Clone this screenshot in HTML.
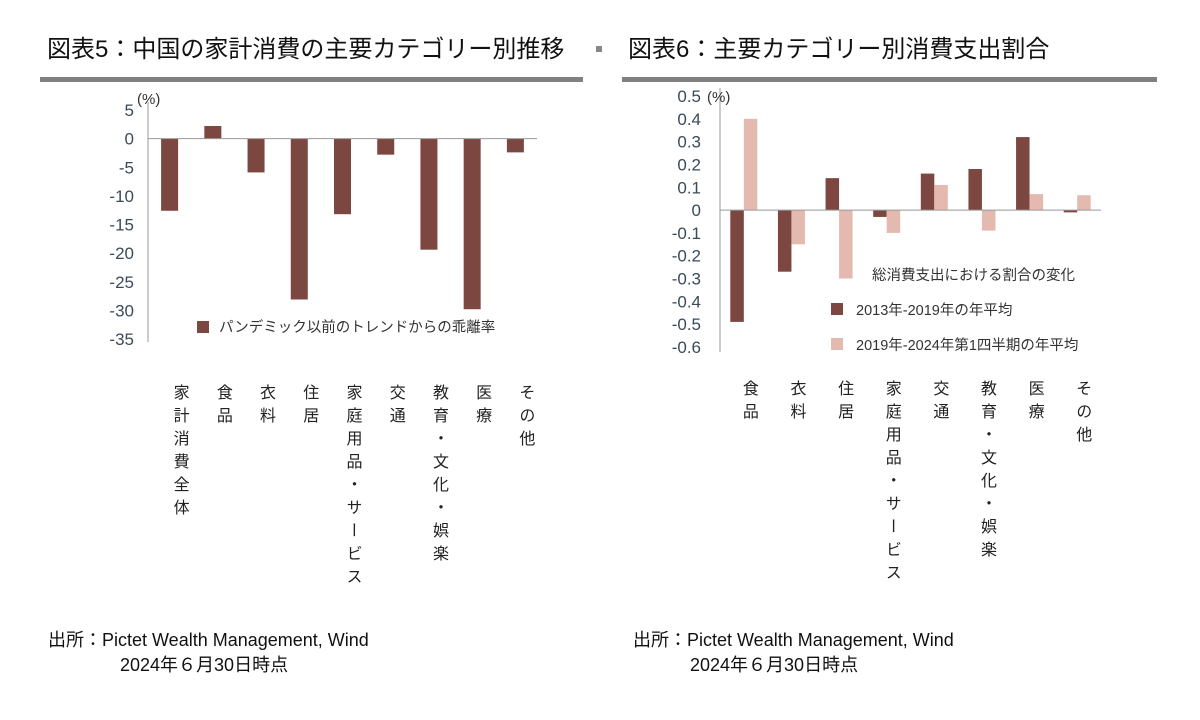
<!DOCTYPE html>
<html><head><meta charset="utf-8"><style>
body{margin:0;width:1200px;height:720px;background:#fff;overflow:hidden;font-family:"Liberation Sans","Noto Sans CJK JP",sans-serif;position:relative}
.t{position:absolute;white-space:nowrap}
.vl{position:absolute;writing-mode:vertical-rl;font-size:16px;letter-spacing:7px;color:#222;line-height:16px}
svg text{font-family:"Liberation Sans","Noto Sans CJK JP",sans-serif}
</style></head><body>
<div class="t" style="left:47px;top:29px;font-size:24px;color:#111">図表5：中国の家計消費の主要カテゴリー別推移</div>
<div class="t" style="left:628px;top:29px;font-size:24px;color:#111">図表6：主要カテゴリー別消費支出割合</div>
<div style="position:absolute;left:596px;top:46px;width:6px;height:6px;background:#888"></div>
<div style="position:absolute;left:40px;top:77px;width:543px;height:5px;background:#808080"></div>
<div style="position:absolute;left:622px;top:77px;width:535px;height:5px;background:#808080"></div>
<svg width="1200" height="720" style="position:absolute;left:0;top:0" id="svg"></svg>
<div id="labels"></div>
<div class="t" style="left:48px;top:626px;font-size:18px;color:#111">出所：Pictet Wealth Management, Wind</div>
<div class="t" style="left:120px;top:651px;font-size:18px;color:#111">2024年６月30日時点</div>
<div class="t" style="left:633px;top:626px;font-size:18px;color:#111">出所：Pictet Wealth Management, Wind</div>
<div class="t" style="left:690px;top:651px;font-size:18px;color:#111">2024年６月30日時点</div>
<script>
const leftCats=["家計消費全体","食品","衣料","住居","家庭用品・サービス","交通","教育・文化・娯楽","医療","その他"];
const leftVals=[-12.6,2.2,-5.9,-28.1,-13.2,-2.8,-19.4,-29.8,-2.4];
const leftTicks=[5,0,-5,-10,-15,-20,-25,-30,-35];
const rightCats=["食品","衣料","住居","家庭用品・サービス","交通","教育・文化・娯楽","医療","その他"];
const rightA=[-0.49,-0.27,0.14,-0.03,0.16,0.18,0.32,-0.01];
const rightB=[0.40,-0.15,-0.30,-0.10,0.11,-0.09,0.07,0.065];
const rightTicks=[0.5,0.4,0.3,0.2,0.1,0,-0.1,-0.2,-0.3,-0.4,-0.5,-0.6];
const NS="http://www.w3.org/2000/svg";
const svg=document.getElementById('svg');
const lab=document.getElementById('labels');
function mk(tag,at,name){const e=document.createElementNS(NS,tag);for(const k in at)e.setAttribute(k,at[k]);


svg.appendChild(e);return e;}
function txt(x,y,s,size,fill,anchor,name){const e=mk('text',{x:x,y:y,'font-size':size,fill:fill,'text-anchor':anchor},name);e.textContent=s;return e;}
// left chart
const L={x0:148,x1:537,ymax:5,ymin:-35,yTop:110,yBot:339};
const ly=v=>L.yTop+(L.ymax-v)/(L.ymax-L.ymin)*(L.yBot-L.yTop);
const lstep=(L.x1-L.x0)/leftCats.length;
leftTicks.forEach(t=>{txt(134,ly(t)+6,String(t),17,'#3a4a5a','end','left-y-tick-label');});
mk('line',{x1:L.x0,y1:ly(5)-8,x2:L.x0,y2:ly(-35)+3,stroke:'#999','stroke-width':1},'left-y-axis');
txt(137,104,'(%)',15,'#333','start','left-y-unit');
leftVals.forEach((v,i)=>{const cx=L.x0+lstep*(i+0.5);const y0=ly(0),y1=ly(v);
mk('rect',{x:cx-8.5,y:Math.min(y0,y1),width:17,height:Math.abs(y1-y0),fill:'#7b4740'},'left-bar-'+i);});
mk('line',{x1:L.x0,y1:ly(0),x2:L.x1,y2:ly(0),stroke:'#999','stroke-width':1},'left-zero-line');
mk('rect',{x:197,y:321,width:12,height:12,fill:'#7b4740'},'left-legend-swatch');
txt(219,332,'パンデミック以前のトレンドからの乖離率',14.5,'#333','start','left-legend-label');
leftCats.forEach((c,i)=>{const d=document.createElement('div');d.className='vl';d.textContent=c;
d.style.left=(L.x0+lstep*(i+0.5)+1)+'px';d.style.top='384px';


lab.appendChild(d);});
// right chart
const R={x0:720,x1:1101,ymax:0.5,ymin:-0.6,yTop:96,yBot:347};
const ry=v=>R.yTop+(R.ymax-v)/(R.ymax-R.ymin)*(R.yBot-R.yTop);
const rstep=(R.x1-R.x0)/rightCats.length;
rightTicks.forEach(t=>{txt(701,ry(t)+6,String(t),17,'#3a4a5a','end','right-y-tick-label');});
mk('line',{x1:R.x0,y1:ry(0.5)-8,x2:R.x0,y2:ry(-0.6)+5,stroke:'#999','stroke-width':1},'right-y-axis');
txt(707,102,'(%)',15,'#333','start','right-y-unit');
rightCats.forEach((c,i)=>{const cx=R.x0+rstep*(i+0.5);const y0=ry(0);
const a=ry(rightA[i]),b=ry(rightB[i]);
mk('rect',{x:cx-13.5,y:Math.min(y0,a),width:13.5,height:Math.abs(a-y0),fill:'#7b4740'},'right-bar-2013-2019-'+i);
mk('rect',{x:cx,y:Math.min(y0,b),width:13.5,height:Math.abs(b-y0),fill:'#e3b9b0'},'right-bar-2019-2024-'+i);
const d=document.createElement('div');d.className='vl';d.textContent=c;
d.style.left=(cx-4)+'px';d.style.top='380px';


lab.appendChild(d);});
mk('line',{x1:R.x0,y1:ry(0),x2:R.x1,y2:ry(0),stroke:'#999','stroke-width':1},'right-zero-line');
txt(872,280,'総消費支出における割合の変化',14.5,'#333','start','right-legend-title');
mk('rect',{x:831,y:303,width:12,height:12,fill:'#7b4740'},'right-legend-swatch-1');
txt(856,315,'2013年-2019年の年平均',14.5,'#333','start','right-legend-label-1');
mk('rect',{x:831,y:338,width:12,height:12,fill:'#e3b9b0'},'right-legend-swatch-2');
txt(856,350,'2019年-2024年第1四半期の年平均',14.5,'#333','start','right-legend-label-2');
</script>
</body></html>
